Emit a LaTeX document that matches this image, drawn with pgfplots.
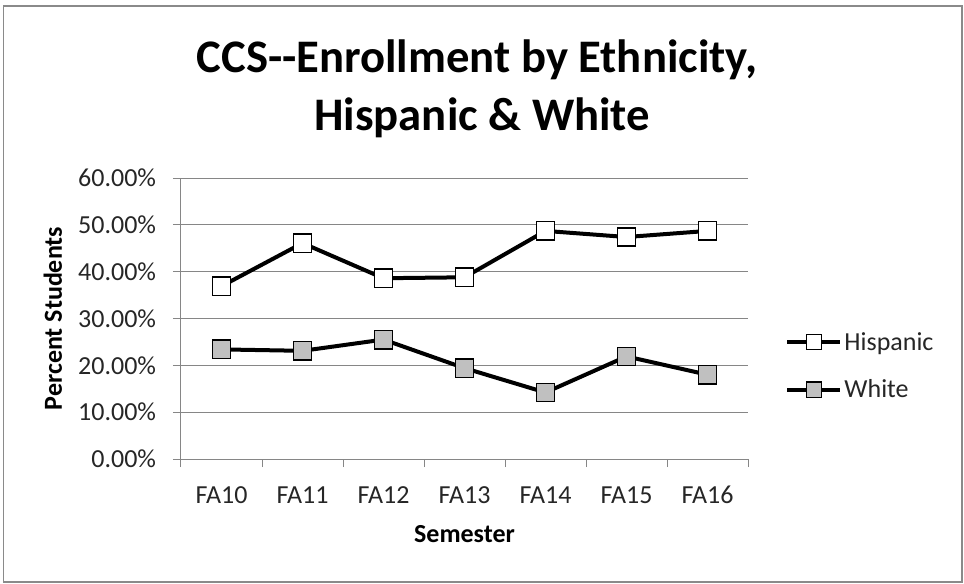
\documentclass[border=0pt]{standalone}
\usepackage{fontspec}
\setmainfont{Carlito}
\usepackage{pgfplots}
\pgfplotsset{compat=1.18}

\definecolor{gridgray}{HTML}{868686}
\definecolor{framegray}{HTML}{8A8A8A}
\definecolor{markgray}{HTML}{C0C0C0}
\definecolor{textgray}{HTML}{262626}

% Share of enrolled students (percent) per fall semester
\pgfplotstableread{
idx sem  hispanic white
0   FA10 36.9     23.4
1   FA11 46.1     23.1
2   FA12 38.6     25.5
3   FA13 38.8     19.4
4   FA14 48.7     14.2
5   FA15 47.4     21.9
6   FA16 48.7     18.0
}\enrollment

\begin{document}
\begin{tikzpicture}[x=0.75pt,y=0.75pt]
  % page area and chart frame
  \useasboundingbox (0,0) rectangle (964,583);
  \draw[framegray, line width=1.1pt] (3.5,0.8) rectangle (962,577);

  \begin{axis}[
    at={(135.75pt,93pt)}, anchor=south west,
    scale only axis, width=425.25pt, height=210.75pt,
    xmin=-0.5, xmax=6.5, ymin=0, ymax=60,
    axis x line=bottom, axis y line=left,
    axis line style={-, gridgray, line width=0.75pt},
    tick align=outside,
    xtick={0,...,6},
    xticklabels={FA10,FA11,FA12,FA13,FA14,FA15,FA16},
    minor xtick={-0.5,0.5,...,6.5},
    major tick length=0pt,
    minor tick length=6pt,
    ytick={0,10,...,60},
    ymajorgrids,
    grid style={gridgray, line width=0.75pt},
    every tick/.style={gridgray, line width=0.75pt},
    extra y ticks={0,10,...,60}, extra y tick labels={},
    extra y tick style={major tick length=6pt, grid=none},
    yticklabel={\pgfmathprintnumber[fixed,fixed zerofill,precision=2]{\tick}\%},
    /pgf/number format/assume math mode=true,
    ticklabel style={font=\fontsize{19.5pt}{23pt}\selectfont, text=textgray},
    yticklabel style={anchor=east, inner sep=0pt, xshift=-18.5pt},
    xticklabel style={anchor=base, inner sep=0pt, yshift=-33pt},
    xlabel={Semester},
    ylabel={Percent Students},
    every axis x label/.style={at={(axis description cs:0.5,-0.2954)}, anchor=base,
      inner sep=0pt, font=\bfseries\fontsize{19.5pt}{23pt}\selectfont},
    every axis y label/.style={at={(axis description cs:-0.2099,0.5)}, rotate=90,
      anchor=base, inner sep=0pt, font=\bfseries\fontsize{19.5pt}{23pt}\selectfont},
    title={CCS-{}-Enrollment by Ethnicity,\hspace*{0.226em}\\Hispanic \& White},
    title style={at={(axis description cs:0.531,1.2883)}, anchor=center, align=center,
      font=\bfseries\fontsize{35pt}{43.5pt}\selectfont},
    legend style={draw=none, fill=none, at={(rel axis cs:1.065,0.331)}, anchor=west,
      font=\fontsize{19.5pt}{23pt}\selectfont, text=textgray,
      row sep=17.75pt, inner sep=0pt, nodes={inner sep=1.5pt}},
    legend cell align=left,
    legend image code/.code={
      \draw[mark repeat=2, mark phase=2, /tikz/every mark/.append style={scale=0.82}]
        plot coordinates {(0pt,0pt) (20pt,0pt) (40pt,0pt)};},
    clip=false,
  ]
    \addplot[black, line width=3pt, mark=square*, mark size=6.9pt,
      mark options={fill=white, draw=black, line width=1.1pt}]
      table[x=idx, y=hispanic] {\enrollment};
    \addlegendentry{Hispanic}
    \addplot[black, line width=3pt, mark=square*, mark size=6.9pt,
      mark options={fill=markgray, draw=black, line width=1.1pt}]
      table[x=idx, y=white] {\enrollment};
    \addlegendentry{White}
  \end{axis}
\end{tikzpicture}
\end{document}
